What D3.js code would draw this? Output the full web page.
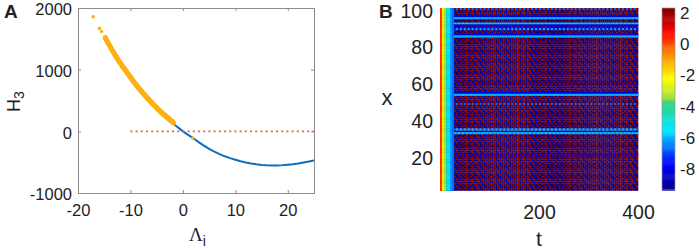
<!DOCTYPE html>
<html>
<head>
<meta charset="utf-8">
<script src="https://cdn.jsdelivr.net/npm/d3@7"></script>
<style>
  body { margin: 0; background: #fff; }
  text { font-family: "Liberation Sans", Arial, sans-serif; fill: #222; }
</style>
</head>
<body>
<div id="chart"></div>
<script>
// panel A, values
var lineLambda = [-2, -1, 0, 1, 2, 3, 4, 5, 6, 7, 8, 9, 10, 11, 12, 13, 14, 15, 16, 17, 18, 19, 20, 21, 22, 23, 24, 25];
var lineH = [140, 68, 0, -58, -113, -175, -232, -285, -330, -370, -405, -435, -460, -485, -505, -522, -535, -545, -550, -553, -553, -548, -540, -532, -520, -505, -490, -472];

var dotLambda = [-17.1, -15.9, -15.5, -14.8, -14.6, -14.4, -14.2, -14, -13.8, -13.6, -13.4, -13.2, -13, -12.8, -12.6, -12.4, -12.2, -12, -11.8, -11.6, -11.4, -11.2, -11, -10.8, -10.6, -10.4, -10.2, -10, -9.8, -9.6, -9.4, -9.2, -9, -8.8, -8.6, -8.4, -8.2, -8, -7.8, -7.6, -7.4, -7.2, -7, -6.8, -6.6, -6.4, -6.2, -6, -5.8, -5.6, -5.4, -5.2, -5, -4.8, -4.6, -4.4, -4.2, -4, -3.8, -3.6, -3.4, -3.2, -3, -2.8, -2.6, -2.4, -2.2, -2, -1.8, 1.9];
var dotH = [1859, 1669, 1620, 1518, 1488, 1455, 1425, 1395, 1365, 1335, 1305, 1278, 1250, 1222, 1195, 1168, 1140, 1115, 1090, 1065, 1040, 1020, 1000, 975, 950, 925, 902, 880, 855, 832, 810, 788, 765, 742, 720, 700, 680, 660, 640, 620, 600, 582, 565, 545, 525, 505, 488, 470, 452, 435, 418, 400, 384, 365, 348, 332, 316, 300, 285, 270, 255, 243, 230, 213, 197, 182, 168, 155, 135, -110];

var refLineLambda = [-10, 25];
var refLineH = [0, 0];

var aXTicks = [-20, -10, 0, 10, 20];
var aYTicks = [-1000, 0, 1000, 2000];

// panel B
var bXTicks = [20, 40, 60, 80, 100];
var bTTicks = [200, 400];
var barTicks = [2, 0, -2, -4, -6, -8];

var colorValues = [-9.35, -7.6, -5.5, -3.7, -3.45, -2.2, -0.5, 0.8, 2.33];
var colorNames = ['#00008f', '#0000ff', '#00e8ff', '#30d080', '#a0e040', '#ffff00', '#ff8000', '#ff0000', '#800000'];

// first columns of the map, before the oscillation sets in
var startValues = [0.2, -2, -3.3, -4.6, -5.4, -6.2, -6.6];

// repeated patch of the red / blue oscillation
var patchA = [2.3, -9.3, 2.3, -9.3, -9.3, 2.3, -9.3, 2.3, -9.3, -9.3, 2.3, -9.3, 2.3, 2.3, -9.3, 2.3, -9.3, 2.3, 2.3, -9.3, 2.3, -9.3, -9.3, 2.3, -9.3, 2.3];
var patchB = [-9.3, 2.3, -9.3, 2.3, -9.3, -9.3, 2.3, -9.3, 2.3, -9.3, -9.3, 2.3, -9.3, 2.3, 2.3, -9.3, 2.3, -9.3, 2.3, -9.3, -9.3, 2.3, -9.3, -9.3, 2.3, -9.3];
var patchC = [2.3, 2.3, -9.3, 2.3, -9.3, 2.3, -9.3, -9.3, 2.3, -9.3, 2.3, -9.3, 2.3, 2.3, -9.3, 2.3, 2.3, -9.3, 2.3, 2.3, -9.3, 2.3, -9.3, 2.3, -9.3, 2.3];
var patchD = [-9.3, 2.3, -9.3, -9.3, 2.3, -9.3, 2.3, -9.3, -9.3, 2.3, -9.3, 2.3, -9.3, 2.3, -9.3, -9.3, 2.3, -9.3, -9.3, 2.3, -9.3, -9.3, 2.3, -9.3, 2.3, -9.3];
var patches = [patchA, patchB, patchC, patchD];

// rows where the oscillation is replaced by a band
var bandRows = [100, 96, 95, 92, 91, 89, 86, 85, 59, 54, 53, 48, 34, 32, 20];
var bandEven = [-6.6, -8, -6.1, -6, -8, -6, -8, -6, 2.3, -8, -6, -6.6, -5.8, -6.2, -7.6];
var bandOdd = [2.3, -8.2, -5.9, -5.7, -8.2, -7.4, -8.2, -5.9, -8.5, -8.2, -5.9, 2.3, -6.8, -5.8, 2.3];

var svg = d3.select('#chart').append('svg').attr('width', 699).attr('height', 250);

var defs = svg.append('defs');
defs.append('filter').attr('id', 'soft')
	.attr('x', 0).attr('y', 0).attr('width', 1).attr('height', 1)
	.append('feGaussianBlur').attr('stdDeviation', 0.6);
defs.append('filter').attr('id', 'crisp')
	.attr('x', 0).attr('y', 0).attr('width', 1).attr('height', 1)
	.append('feGaussianBlur').attr('stdDeviation', 0.45);

// panel A scales
var xA = d3.scaleLinear().domain([-20, 25]).range([78, 314]);
var yA = d3.scaleLinear().domain([-1000, 2000]).range([193, 8]);

function styleAxis(g) {
	g.selectAll('path, line').attr('stroke', '#8c8c8c');
	g.selectAll('text').attr('fill', '#222').attr('font-family', '"Liberation Sans", Arial, sans-serif');
}

svg.append('g').attr('transform', 'translate(0,193)')
	.call(d3.axisBottom(xA).tickValues(aXTicks).tickSize(-3).tickPadding(11).tickFormat(String))
	.call(styleAxis).attr('font-size', 16.5);
svg.append('g').attr('transform', 'translate(0,8)')
	.call(d3.axisTop(xA).tickValues(aXTicks).tickSize(-3).tickFormat(''))
	.call(styleAxis);
var yAxisA = svg.append('g').attr('transform', 'translate(78,0)')
	.call(d3.axisLeft(yA).tickValues(aYTicks).tickSize(-3).tickPadding(6).tickFormat(String))
	.call(styleAxis).attr('font-size', 16.5);
yAxisA.selectAll('text').attr('y', 1.5);
svg.append('g').attr('transform', 'translate(314,0)')
	.call(d3.axisRight(yA).tickValues(aYTicks).tickSize(-3).tickFormat(''))
	.call(styleAxis);

var curve = d3.line().x(function(d) { return xA(d[0]); }).y(function(d) { return yA(d[1]); });

svg.append('path')
	.attr('d', curve(d3.zip(lineLambda, lineH)))
	.attr('fill', 'none')
	.attr('stroke', '#0a6fc0')
	.attr('stroke-width', 2);

svg.append('path')
	.attr('d', curve(d3.zip(refLineLambda, refLineH)))
	.attr('fill', 'none')
	.attr('stroke', '#f2603a')
	.attr('stroke-width', 1.8)
	.attr('stroke-dasharray', '2 3.2');

svg.append('g').selectAll('circle')
	.data(d3.zip(dotLambda, dotH))
	.join('circle')
	.attr('cx', function(d) { return xA(d[0]); })
	.attr('cy', function(d) { return yA(d[1]); })
	.attr('r', function(d) { return d[0] > 0 || d[0] < -15.2 ? 1.8 : 2.6; })
	.attr('fill', '#fdb012');

// panel B scales
var tScale = d3.scaleLinear().domain([0, 400]).range([440, 638]);
var xScale = d3.scaleLinear().domain([1, 100]).range([190.5, 8]);
var colorScale = d3.scaleLinear().domain(colorValues).range(colorNames);

var tCols = d3.range(0, 400, 4);
var xRows = d3.range(100, 0, -1);
var rowBand = d3.scaleBand().domain(xRows).range([8, 190.5]);
var colBand = d3.scaleBand().domain(tCols).range([tScale(0), tScale(400)]);

// oscillation goes underneath, start columns and bands on top of it
var bodyCells = [];
var topCells = [];
xRows.forEach(function(row, i) {
	var b = bandRows.indexOf(row);
	tCols.forEach(function(t, j) {
		bodyCells.push({ t: t, row: row, v: patches[i % patches.length][j % patchA.length] });
		if (j < startValues.length) topCells.push({ t: t, row: row, v: startValues[j] });
		else if (b >= 0) topCells.push({ t: t, row: row, v: j % 2 ? bandOdd[b] : bandEven[b] });
	});
});

function drawCells(data, filter) {
	svg.append('g').attr('filter', 'url(#' + filter + ')').selectAll('rect')
		.data(data)
		.join('rect')
		.attr('x', function(d) { return colBand(d.t); })
		.attr('y', function(d) { return rowBand(d.row); })
		.attr('width', colBand.bandwidth() + 0.3)
		.attr('height', rowBand.bandwidth() + 0.3)
		.attr('fill', function(d) { return colorScale(d.v); });
}
drawCells(bodyCells, 'soft');
drawCells(topCells, 'crisp');

var xAxisB = svg.append('g').attr('transform', 'translate(440,0)')
	.call(d3.axisLeft(xScale).tickValues(bXTicks).tickSize(0).tickPadding(7));
xAxisB.select('.domain').remove();
xAxisB.call(styleAxis).attr('font-size', 19.5);
xAxisB.selectAll('text').attr('dy', 0).attr('y', 9);

var tAxisB = svg.append('g').attr('transform', 'translate(0,190.5)')
	.call(d3.axisBottom(tScale).tickValues(bTTicks).tickSize(0).tickPadding(15));
tAxisB.select('.domain').remove();
tAxisB.call(styleAxis).attr('font-size', 19.5);

// colour bar
var barScale = d3.scaleLinear().domain([2.33, -9.35]).range([8, 190]);
var barSteps = d3.range(2.33, -9.35, -0.06);
svg.append('g').selectAll('rect')
	.data(barSteps)
	.join('rect')
	.attr('x', 662)
	.attr('width', 13)
	.attr('y', function(d) { return barScale(d); })
	.attr('height', 1.4)
	.attr('fill', function(d) { return colorScale(d); });
svg.append('rect')
	.attr('x', 662).attr('y', 8).attr('width', 13).attr('height', 182)
	.attr('fill', 'none').attr('stroke', '#999').attr('stroke-width', 0.7);

var barAxis = svg.append('g').attr('transform', 'translate(675,0)')
	.call(d3.axisRight(barScale).tickValues(barTicks).tickSize(0).tickPadding(5).tickFormat(String));
barAxis.select('.domain').remove();
barAxis.call(styleAxis).attr('font-size', 17);

// panel letters and axis titles
svg.append('text').attr('x', 4).attr('y', 18).attr('font-size', 19).attr('font-weight', 'bold').text('A');
svg.append('text').attr('x', 379).attr('y', 18).attr('font-size', 19).attr('font-weight', 'bold').text('B');

var hLabel = svg.append('text')
	.attr('transform', 'translate(20,112) rotate(-90)')
	.attr('font-size', 18);
hLabel.append('tspan').text('H');
hLabel.append('tspan').attr('font-size', 14).attr('dy', 4).text('3');

var lambdaLabel = svg.append('text')
	.attr('x', 189).attr('y', 241)
	.attr('font-size', 19);
lambdaLabel.append('tspan').style('font-family', '"Liberation Serif", serif').text('Λ');
lambdaLabel.append('tspan').attr('font-size', 14).attr('dy', 5).text('i');

svg.append('text').attr('x', 387).attr('y', 105).attr('text-anchor', 'middle').attr('font-size', 22).text('x');
svg.append('text').attr('x', 539).attr('y', 246).attr('text-anchor', 'middle').attr('font-size', 21).text('t');
</script>
</body>
</html>
